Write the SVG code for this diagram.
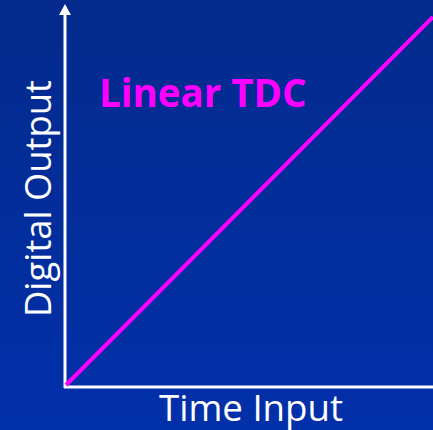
<svg xmlns="http://www.w3.org/2000/svg" width="433" height="430" viewBox="0 0 433 430">
<defs>
<linearGradient id="bg" x1="0" y1="0" x2="0" y2="1">
<stop offset="0" stop-color="#032a8c"/>
<stop offset="1" stop-color="#0230aa"/>
</linearGradient>
</defs>
<style>
.ax{stroke:#ffffff;stroke-width:3;fill:none}
.lbl{font-family:"Open Sans","Noto Sans",sans-serif;fill:#ffffff;font-size:37px}
.ttl{font-family:"Open Sans","Noto Sans",sans-serif;fill:#ff00ff;font-size:38.5px;font-weight:bold}
</style>
<rect width="433" height="430" fill="url(#bg)"/>
<g id="connectors">
<line class="ax" x1="65" y1="388" x2="65" y2="13"/>
<polygon points="65,4 59,15 71,15" fill="#ffffff"/>
<line class="ax" x1="64" y1="387" x2="433" y2="387"/>
<line x1="66" y1="385" x2="433" y2="17" stroke="#ff00ff" stroke-width="4"/>
</g>
<g id="title"><text class="ttl" x="99" y="107">Linear TDC</text></g>
<g id="xlabel"><text class="lbl" x="159" y="421" textLength="184" lengthAdjust="spacingAndGlyphs">Time Input</text></g>
<g id="ylabel"><text class="lbl" transform="translate(51,317) rotate(-90)" textLength="237" lengthAdjust="spacingAndGlyphs">Digital Output</text></g>
</svg>
